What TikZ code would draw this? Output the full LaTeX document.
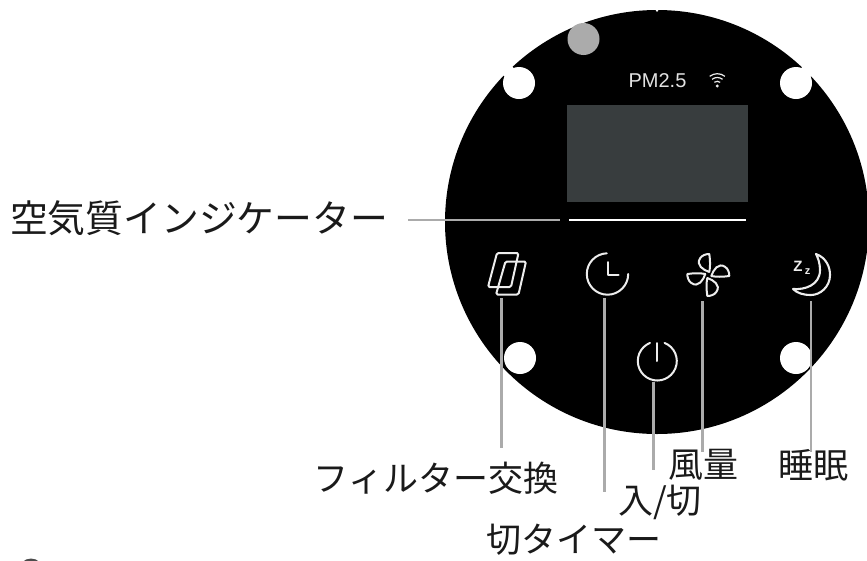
\documentclass[tikz,border=0pt]{standalone}
\usepackage{fontspec}
\setmainfont{Liberation Sans}
\newfontfamily\jpfont{Noto Sans CJK JP}
\definecolor{leader}{HTML}{ABABAB}
\definecolor{screen}{HTML}{383D3E}
\definecolor{iconw}{HTML}{EDEDED}
\definecolor{inktext}{HTML}{1A1A1A}
\tikzset{
  leaderline/.style={draw=leader,line width=2.8pt},
  iconline/.style={draw=iconw,line width=2pt,line join=round,line cap=round},
  hole/.style={fill=white,draw=none},
  bigtext/.style={font=\jpfont\fontsize{37.8}{40}\selectfont,text=inktext,inner sep=0pt},
  midtext/.style={font=\jpfont\fontsize{35}{37}\selectfont,text=inktext,inner sep=0pt},
}
\begin{document}
\begin{tikzpicture}[x=1pt,y=-1pt]
\useasboundingbox (0,0) rectangle (867,560);
% body
\fill[black] (657,222) circle (212);
\fill[white] (655,9) -- (659,9) -- (657.5,11.5) -- (656.5,11.5) -- cycle;
% notches
\fill[hole] (511,65) -- (517,72) -- (508,80) -- (502,74) -- (490,62) -- (499,53) -- cycle;
\fill[hole] (804,65) -- (798,72) -- (807,80) -- (813,74) -- (825,62) -- (816,53) -- cycle;
% holes
\fill[hole] (519,83) circle (16);
\fill[hole] (796,83) circle (16);
\fill[hole] (520,358) circle (16);
\fill[hole] (796,358) circle (16);
\fill[leader] (583.5,39) circle (16);
% screen and status
\node[fill=screen,minimum width=181pt,minimum height=97pt,inner sep=0pt] (scr) at (657.5,153.5) {};
\node[text=iconw!90!gray,font=\fontsize{20}{20}\selectfont,inner sep=0pt] (pm) at (657.5,81) {PM2.5};
\fill[iconw] (717.3,86) circle (1.6);
\draw[iconw,line width=1.2pt] (717.3,86)+(232:4.7) arc (232:308:4.7);
\draw[iconw,line width=1.2pt] (717.3,86)+(232:8.5) arc (232:308:8.5);
\draw[iconw,line width=1.2pt] (717.3,86)+(232:12.3) arc (232:308:12.3);
% air quality bar
\coordinate (barL) at (569,220);
\coordinate (barR) at (746,220);
\draw[white,line width=2.6pt] (barL) -- (barR);
% filter icon
\draw[iconline,rounded corners=1.5pt] (497,253) -- (518.5,253) -- (511,287) -- (488,287) -- cycle;
\draw[iconline,rounded corners=1.5pt] (505.5,261.5) -- (526,261.5) -- (518.5,294.5) -- (496,294.5) -- cycle;
% clock icon
\draw[iconline] (607.5,274)+(0:20.7) arc (0:268:20.7);
\draw[iconline] (607.5,262) -- (607.5,275) -- (618.5,275);
% fan icon
\foreach \a in {0,-90,-180,-270}{
  \draw[iconline,shift={(708.3,275)},rotate=\a,y=1pt]
    (1,3) .. controls (-5,5) and (-13,10) .. (-8,17) .. controls (-6,20) and (-2,21) .. (1,21) .. controls (2,14) and (2,8) .. (1,3);
}
% moon icon
\draw[iconline,line width=2.1pt] (816,254) .. controls (827,258) and (830,268) .. (830,275) .. controls (830,287) and (820,295) .. (811,295) .. controls (803,295) and (797,293) .. (793,289) .. controls (805,290) and (820,285) .. (820,270) .. controls (820,263) and (818,258) .. (816,254) -- cycle;
\node[text=iconw,font=\bfseries\fontsize{15}{15}\selectfont,inner sep=0pt] (zbig) at (798,266) {Z};
\node[text=iconw,font=\bfseries\fontsize{11}{11}\selectfont,inner sep=0pt] (zsmall) at (807.5,272) {z};
% power icon
\draw[iconline] (657.3,361)+(-68:19.5) arc (-68:248:19.5);
\draw[iconline] (657.3,343) -- (657.3,361);
% labels
\node[bigtext] (aq) at (199,218) {空気質インジケーター};
\node[midtext] (filt) at (436,478) {フィルター交換};
\node[midtext] (timer) at (574,540) {切タイマー};
\node[midtext] (pow) at (660,502) {入/切};
\node[midtext] (fan) at (703,465) {風量};
\node[midtext] (sleep) at (813,465) {睡眠};
% leaders
\coordinate (aqS) at (408,220);
\coordinate (aqE) at (560,220);
\draw[leaderline] (aqS) -- (aqE);
\coordinate (f1) at (501.7,298); \coordinate (f2) at (501.7,448);
\coordinate (c1) at (604.5,298); \coordinate (c2) at (604.5,492);
\coordinate (p1) at (653.5,382); \coordinate (p2) at (653.5,470);
\coordinate (a1) at (702.5,301); \coordinate (a2) at (702.5,452);
\coordinate (m1) at (811,301); \coordinate (m2) at (811,452);
\draw[leaderline] (f1) -- (f2);
\draw[leaderline] (c1) -- (c2);
\draw[leaderline] (p1) -- (p2);
\draw[leaderline] (a1) -- (a2);
\draw[leaderline] (m1) -- (m2);
% fragment at the lower edge
\begin{scope}
\clip (0,555) rectangle (867,560);
\fill[gray!60!black] (31,571) circle (12.5);
\end{scope}
\end{tikzpicture}
\end{document}
